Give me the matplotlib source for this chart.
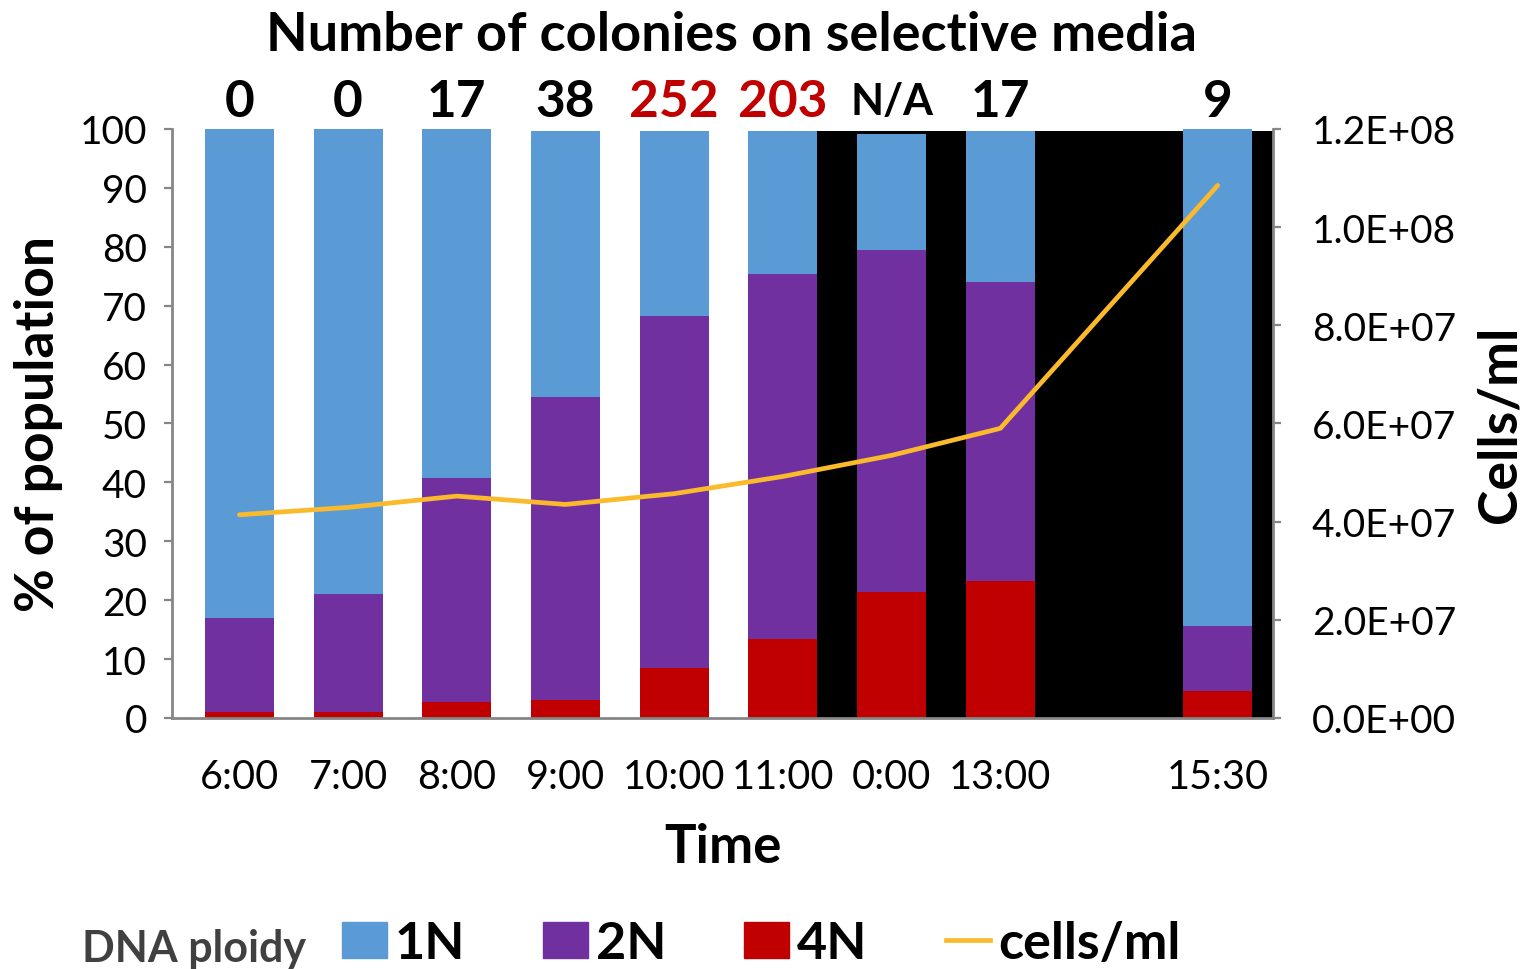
import numpy as np
import pandas as pd
import matplotlib
matplotlib.use("Agg")
import matplotlib.pyplot as plt
from matplotlib.patches import Patch
from matplotlib.lines import Line2D
from matplotlib.transforms import blended_transform_factory

plt.rcParams['font.family'] = ['Lato', 'DejaVu Sans']

# sampling times (one empty slot before 15:30)
times = ["6:00", "7:00", "8:00", "9:00", "10:00", "11:00", "0:00", "13:00", "", "15:30"]
colonies = ["0", "0", "17", "38", "252", "203", "N/A", "17", "", "9"]
colony_colors = ["black", "black", "black", "black", "#C00000", "#C00000", "black", "black", "black", "black"]

# % of population by ploidy
pct_4n = [1.0, 1.0, 2.7, 3.1, 8.5, 13.4, 21.4, 23.2, np.nan, 4.5]
pct_2n = [16.0, 20.0, 38.0, 51.4, 59.8, 62.0, 58.1, 50.9, np.nan, 11.1]
pct_1n = [83.0, 79.0, 59.3, 45.1, 31.3, 24.2, 19.6, 25.5, np.nan, 84.4]

# culture density
cells_ml = [4.14e7, 4.29e7, 4.52e7, 4.35e7, 4.57e7, 4.92e7, 5.35e7, 5.90e7, np.nan, 1.085e8]

c1, c2, c4 = "#5B9BD5", "#7030A0", "#C00000"
c_line = "#FBBA2B"
grey = "#868686"

df = pd.DataFrame({"t": times, "n1": pct_1n, "n2": pct_2n, "n4": pct_4n, "cells": cells_ml})
x = np.arange(len(df))
w = 0.635

fig = plt.figure(figsize=(15.32, 9.7), dpi=100)
ax = fig.add_axes([0.1123, 0.2588, 0.7187, 0.6072])

# dark background behind the later time points
ax.axvspan(5 + w / 2, 9.51, ymin=0, ymax=0.996, color="black", zorder=0, lw=0)

ax.bar(x, df.n4, w, color=c4, zorder=2)
ax.bar(x, df.n2, w, bottom=df.n4, color=c2, zorder=2)
ax.bar(x, df.n1, w, bottom=df.n4 + df.n2, color=c1, zorder=2)

ax.set_xlim(-0.62, 9.51)
ax.set_ylim(0, 100)
ax.set_yticks(range(0, 101, 10))
ax.set_xticks(x)
ax.set_xticklabels(times)
ax.tick_params(axis='y', length=6, width=1.6, color=grey, labelsize=28, pad=12)
ax.tick_params(axis='x', length=0, labelsize=28.5, pad=29)
for s in ["top", "right"]:
    ax.spines[s].set_visible(False)
for s in ["left", "bottom"]:
    ax.spines[s].set_color(grey)
    ax.spines[s].set_linewidth(2)
ax.set_ylabel("% of population", fontsize=38.5, fontweight="bold", labelpad=12)
ax.set_xlabel("Time", fontsize=38, fontweight="bold", labelpad=19)

ax2 = ax.twinx()
d = df.dropna(subset=["cells"])
ax2.plot(d.index, d.cells, color=c_line, lw=3.4, solid_capstyle="round", solid_joinstyle="round")
ax2.set_ylim(0, 1.2e8)
ax2.set_yticks(np.arange(0, 1.21e8, 2e7))
ax2.set_yticklabels([f"{v:.1E}" for v in np.arange(0, 1.21e8, 2e7)])
ax2.tick_params(axis='y', length=6, width=1.6, color=grey, labelsize=28, pad=22)
for s in ["top", "left", "bottom"]:
    ax2.spines[s].set_visible(False)
ax2.spines["right"].set_color(grey)
ax2.spines["right"].set_linewidth(2)
ax2.set_ylabel("Cells/ml", fontsize=38.5, fontweight="bold", labelpad=14)

# colony counts above each bar
tr = blended_transform_factory(ax.transData, ax.transAxes)
for xi, txt, col in zip(x, colonies, colony_colors):
    size = 31 if txt == "N/A" else 37
    ax.text(xi, 1.047, txt, transform=tr, ha="center", va="center",
            fontsize=size, fontweight="bold", color=col)

fig.text(0.4775, 0.963, "Number of colonies on selective media", ha="center", va="center",
         fontsize=39, fontweight="bold")

# legend row
fig.text(82 / 1532, 0.0083, "DNA ploidy", ha="left", va="baseline",
         fontsize=31, fontweight="bold", color="#404040")
handles = [Patch(color=c1), Patch(color=c2), Patch(color=c4),
           Line2D([], [], color=c_line, lw=3.4)]
fig.legend(handles, ["1N", "2N", "4N", "cells/ml"], ncol=4, frameon=False,
           loc="center left", bbox_to_anchor=(0.2232, 0.026),
           prop={"size": 37.5, "weight": "bold"}, handlelength=0.86, handleheight=0.7,
           handletextpad=0.15, columnspacing=1.5, borderpad=0, borderaxespad=0)

fig.savefig("out.png", dpi=100)
